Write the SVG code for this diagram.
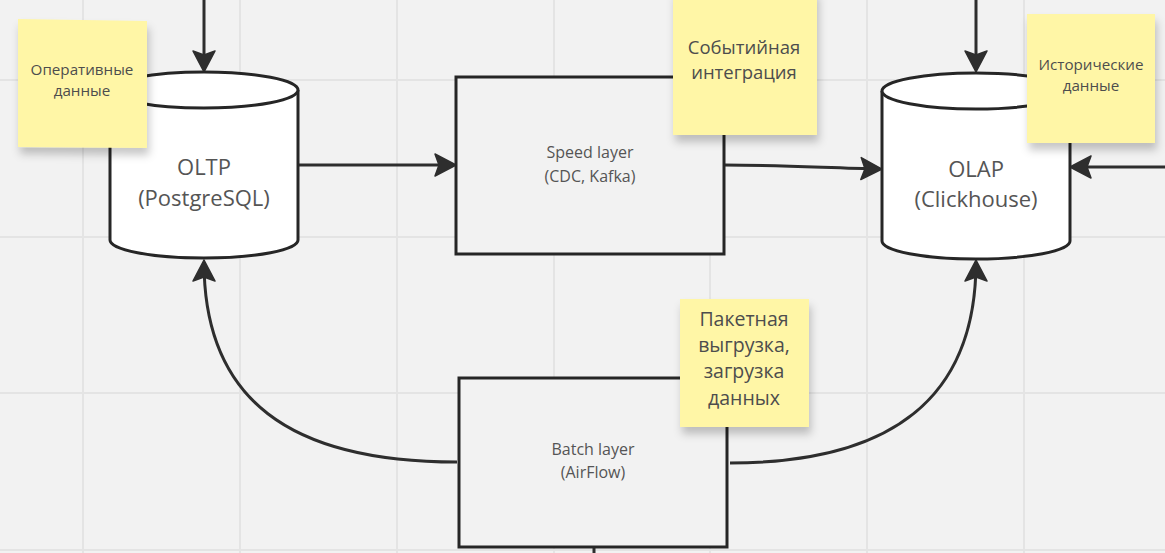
<svg xmlns="http://www.w3.org/2000/svg" width="1165" height="553" viewBox="0 0 1165 553">
<defs>
<style>
.grid{stroke:#e4e4e4;stroke-width:2}
.shape{fill:#ffffff;stroke:#262626;stroke-width:3}
.box{fill:#f2f2f2;stroke:#262626;stroke-width:3}
.conn{fill:none;stroke:#2e2e2e;stroke-width:3}
.big{font-family:"Open Sans","Noto Sans","Liberation Sans",sans-serif;font-size:22px;fill:#555555;text-anchor:middle}
.mid{font-family:"Open Sans","Noto Sans","Liberation Sans",sans-serif;font-size:16px;fill:#555555;text-anchor:middle}
.note{fill:#fff6a6}
.ns{font-family:"Open Sans","Noto Sans","Liberation Sans",sans-serif;font-size:15.2px;fill:#4d4d4d;text-anchor:middle}
.nl{font-family:"Open Sans","Noto Sans","Liberation Sans",sans-serif;font-size:18.5px;fill:#4d4d4d;text-anchor:middle}
.nb{font-family:"Open Sans","Noto Sans","Liberation Sans",sans-serif;font-size:19.5px;fill:#4d4d4d;text-anchor:middle}
</style>
<marker id="arr" markerUnits="userSpaceOnUse" viewBox="-24 -14 28 28" markerWidth="28" markerHeight="28" refX="0" refY="0" orient="auto">
<path d="M2 0 L-19 -11 L-15 0 L-19 11 Z" fill="#2e2e2e" stroke="#2e2e2e" stroke-width="1.5" stroke-linejoin="round"/>
</marker>
<filter id="sh" x="-20%" y="-20%" width="140%" height="150%">
<feDropShadow dx="2" dy="7" stdDeviation="4" flood-color="#000" flood-opacity="0.22"/>
</filter>
</defs>
<rect width="1165" height="553" fill="#f2f2f2"/>
<g id="grid">
<line class="grid" x1="83" y1="0" x2="83" y2="553"/>
<line class="grid" x1="240" y1="0" x2="240" y2="553"/>
<line class="grid" x1="397" y1="0" x2="397" y2="553"/>
<line class="grid" x1="554" y1="0" x2="554" y2="553"/>
<line class="grid" x1="710" y1="0" x2="710" y2="553"/>
<line class="grid" x1="867" y1="0" x2="867" y2="553"/>
<line class="grid" x1="1024" y1="0" x2="1024" y2="553"/>
<line class="grid" x1="0" y1="80" x2="1165" y2="80"/>
<line class="grid" x1="0" y1="237" x2="1165" y2="237"/>
<line class="grid" x1="0" y1="393" x2="1165" y2="393"/>
<line class="grid" x1="0" y1="550" x2="1165" y2="550"/>
</g>
<g id="connectors">
<path class="conn" d="M204 0 L204 70" marker-end="url(#arr)"/>
<path class="conn" d="M976 0 L976 70" marker-end="url(#arr)"/>
<path class="conn" d="M298 165 L454 165" marker-end="url(#arr)"/>
<path class="conn" d="M724 165 C780 165 830 168 880 169" marker-end="url(#arr)"/>
<path class="conn" d="M1165 167 L1072 167" marker-end="url(#arr)"/>
<path class="conn" d="M457 462 C290 462 204 400 204 262" marker-end="url(#arr)"/>
<path class="conn" d="M730 463 C890 463 976 400 976 262" marker-end="url(#arr)"/>
<path class="conn" d="M594 548 L594 553"/>
</g>
<g id="oltp">
<path class="shape" d="M110 90 L110 240 A94 18 0 0 0 298 240 L298 90 A94 18 0 0 0 110 90 Z"/>
<path class="shape" fill="none" d="M110 90 A94 18 0 0 0 298 90"/>
<text class="big" x="204" y="175">OLTP</text>
<text class="big" x="204" y="206">(PostgreSQL)</text>
</g>
<g id="olap">
<path class="shape" d="M882 91 L882 241 A94 18 0 0 0 1070 241 L1070 91 A94 18 0 0 0 882 91 Z"/>
<path class="shape" fill="none" d="M882 91 A94 18 0 0 0 1070 91"/>
<text class="big" x="976" y="177">OLAP</text>
<text class="big" x="976" y="207">(Clickhouse)</text>
</g>
<g id="speed">
<rect class="box" x="456" y="77" width="268" height="177"/>
<text class="mid" x="590" y="158">Speed layer</text>
<text class="mid" x="590" y="182">(CDC, Kafka)</text>
</g>
<g id="batch">
<rect class="box" x="459" y="378" width="268" height="169"/>
<text class="mid" x="593" y="455">Batch layer</text>
<text class="mid" x="593" y="478">(AirFlow)</text>
</g>
<g id="note-operative">
<polygon class="note" filter="url(#sh)" points="18,19 147,21 147,148 18,147"/>
<text class="ns" x="82" y="75">Оперативные</text>
<text class="ns" x="82" y="96">данные</text>
</g>
<g id="note-event">
<rect class="note" filter="url(#sh)" x="673" y="-10" width="144" height="145"/>
<text class="nl" x="744" y="54">Событийная</text>
<text class="nl" x="744" y="79">интеграция</text>
</g>
<g id="note-history">
<rect class="note" filter="url(#sh)" x="1027" y="14" width="128" height="129"/>
<text class="ns" x="1091" y="70">Исторические</text>
<text class="ns" x="1091" y="91">данные</text>
</g>
<g id="note-batch">
<rect class="note" filter="url(#sh)" x="680" y="299" width="129" height="128"/>
<text class="nb" x="744" y="326">Пакетная</text>
<text class="nb" x="744" y="352">выгрузка,</text>
<text class="nb" x="744" y="378">загрузка</text>
<text class="nb" x="744" y="405">данных</text>
</g>
</svg>
